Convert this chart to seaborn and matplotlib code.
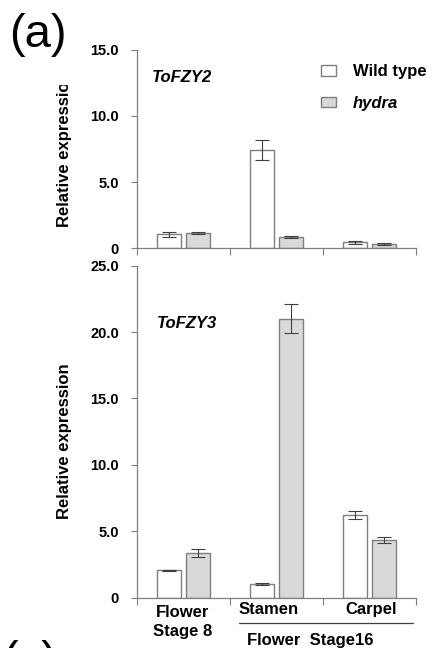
import pandas as pd
import seaborn as sns
import matplotlib.pyplot as plt
from matplotlib.patches import Rectangle, Patch
from matplotlib.lines import Line2D

# values
tissues = ['Flower Stage 8', 'Stamen', 'Carpel']
genotypes = ['Wild type', 'hydra']

fzy2_wt = [1.05, 7.45, 0.45]
fzy2_wt_err = [0.2, 0.75, 0.1]
fzy2_hy = [1.15, 0.83, 0.30]
fzy2_hy_err = [0.07, 0.07, 0.08]

fzy3_wt = [2.05, 1.05, 6.2]
fzy3_wt_err = [0.05, 0.08, 0.3]
fzy3_hy = [3.4, 21.0, 4.35]
fzy3_hy_err = [0.3, 1.1, 0.2]

fzy2_ticks = [0, 5, 10, 15]
fzy3_ticks = [0, 5, 10, 15, 20, 25]

sns.set_theme(style='ticks')
plt.rcParams['font.family'] = ['Liberation Sans', 'DejaVu Sans']
plt.rcParams['text.color'] = 'black'
plt.rcParams['axes.labelcolor'] = 'black'

EDGE = '#7f7f7f'
FILL = {'Wild type': 'white', 'hydra': '#d9d9d9'}


def make_df(wt, wt_err, hy, hy_err):
    rows = []
    for i, t in enumerate(tissues):
        rows.append((t, 'Wild type', wt[i], wt_err[i]))
        rows.append((t, 'hydra', hy[i], hy_err[i]))
    return pd.DataFrame(rows, columns=['tissue', 'genotype', 'value', 'err'])


def draw(ax, df, ticks, gene, gene_pos, label_y):
    sns.barplot(data=df, x='tissue', y='value', hue='genotype', order=tissues,
                hue_order=genotypes, palette=FILL, edgecolor=EDGE, linewidth=1.0,
                width=0.62, gap=0.16, errorbar=None, legend=False, ax=ax)
    bars = sorted([p for p in ax.patches if p.get_height() > 0], key=lambda p: p.get_x())
    for p, (_, r) in zip(bars, df.iterrows()):
        ax.errorbar(p.get_x() + p.get_width() / 2, r['value'], yerr=r['err'],
                    fmt='none', ecolor='#404040', elinewidth=0.8, capsize=5, capthick=0.8)
    ax.set_xlim(-0.5, 2.5)
    ax.set_ylim(0, ticks[-1])
    ax.set_xticks([-0.5, 0.5, 1.5, 2.5])
    ax.set_xticklabels([])
    ax.set_yticks(ticks)
    ax.set_yticklabels(['0'] + [f'{t:.1f}' for t in ticks[1:]], fontsize=10.5, fontweight='bold')
    ax.tick_params(axis='y', direction='out', length=4, width=0.8, color=EDGE, pad=9,
                   labelcolor='black')
    ax.tick_params(axis='x', direction='out', length=5, width=0.8, color=EDGE)
    for s in ['left', 'bottom']:
        ax.spines[s].set_color(EDGE)
        ax.spines[s].set_linewidth(0.9)
    sns.despine(ax=ax)
    ax.set_xlabel('')
    ax.set_ylabel('Relative expression', fontsize=12, fontweight='bold')
    ax.yaxis.set_label_coords(-0.233, label_y)
    ax.text(gene_pos[0], gene_pos[1], gene, transform=ax.transAxes, fontsize=12,
            fontweight='bold', fontstyle='italic', va='center')


fig = plt.figure(figsize=(4.32, 6.48), dpi=100)
ax1 = fig.add_axes([0.317, 0.617, 0.646, 0.306])
ax2 = fig.add_axes([0.317, 0.0776, 0.646, 0.5124])

draw(ax1, make_df(fzy2_wt, fzy2_wt_err, fzy2_hy, fzy2_hy_err), fzy2_ticks, 'ToFZY2',
     (0.054, 0.859), 0.5)
draw(ax2, make_df(fzy3_wt, fzy3_wt_err, fzy3_hy, fzy3_hy_err), fzy3_ticks, 'ToFZY3',
     (0.072, 0.827), 0.47)

# top y label is cut off in the original
clip = Rectangle((0, 0), 1, 0.869, transform=fig.transFigure)
ax1.yaxis.label.set_clip_path(clip)

handles = [Patch(facecolor=FILL[g], edgecolor=EDGE, linewidth=1.0) for g in genotypes]
leg = fig.legend(handles, genotypes, loc='upper left', bbox_to_anchor=(0.742, 0.901),
                 frameon=False, prop={'weight': 'bold', 'size': 12}, borderpad=0,
                 borderaxespad=0, handlelength=0.9, handleheight=0.6,
                 handletextpad=1.05, labelspacing=1.0)
leg.get_texts()[1].set_fontstyle('italic')

# category labels under the lower panel
xt = ax2.get_xaxis_transform()
ax2.text(-0.01, -0.074, 'Flower\nStage 8', transform=xt, ha='center', va='center',
         fontsize=12, fontweight='bold', linespacing=1.3)
ax2.text(0.91, -0.034, 'Stamen', transform=xt, ha='center', va='center',
         fontsize=12, fontweight='bold')
ax2.text(2.02, -0.034, 'Carpel', transform=xt, ha='center', va='center',
         fontsize=12, fontweight='bold')
ax2.add_line(Line2D([0.6, 2.47], [-0.076, -0.076], transform=xt,
                    color='#404040', linewidth=0.9, clip_on=False))
ax2.text(1.36, -0.128, 'Flower  Stage16', transform=xt, ha='center', va='center',
         fontsize=12, fontweight='bold')

fig.text(0.02, 0.98, '(a)', fontsize=34, va='top', ha='left')
fig.text(0.005, 0.013, '(c)', fontsize=34, va='top', ha='left')

fig.savefig('out.png', dpi=100)
